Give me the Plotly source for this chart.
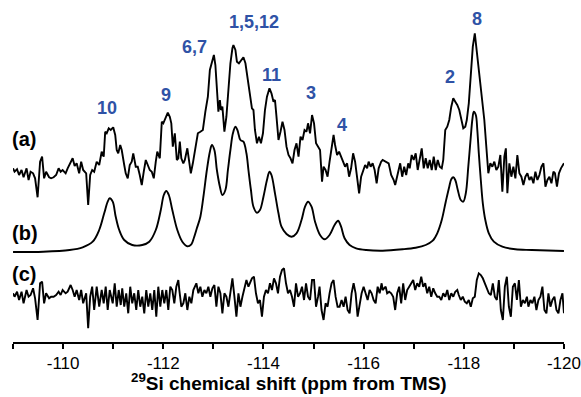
import plotly.graph_objects as go

# ---------------------------------------------------------------------------
# Spectra: chemical shift (ppm) and intensity (a.u., relative to each trace's
# own baseline).  (a) experimental, (b) simulated sum of components,
# (c) difference.
# ---------------------------------------------------------------------------
ppm_a = [
    -109.00, -109.03, -109.08, -109.12, -109.17, -109.21, -109.27, -109.31, -109.35, -109.40,
    -109.44, -109.49, -109.54, -109.58, -109.62, -109.66, -109.72, -109.76, -109.81, -109.86,
    -109.91, -109.95, -109.99, -110.05, -110.09, -110.15, -110.19, -110.23, -110.27, -110.32,
    -110.36, -110.40, -110.46, -110.50, -110.54, -110.58, -110.62, -110.67, -110.72, -110.77,
    -110.81, -110.84, -110.87, -110.91, -110.95, -111.00, -111.04, -111.07, -111.10, -111.14,
    -111.17, -111.22, -111.25, -111.29, -111.33, -111.37, -111.40, -111.45, -111.49, -111.53,
    -111.57, -111.61, -111.65, -111.69, -111.73, -111.77, -111.81, -111.85, -111.88, -111.93,
    -111.97, -112.00, -112.05, -112.09, -112.13, -112.16, -112.19, -112.23, -112.27, -112.30,
    -112.33, -112.36, -112.40, -112.43, -112.48, -112.51, -112.55, -112.59,
    -112.69, -112.74, -112.79, -112.84, -112.89, -112.93, -112.97, -113.01, -113.04, -113.07,
    -113.10, -113.13, -113.15, -113.18, -113.22, -113.26, -113.30, -113.34, -113.38, -113.40,
    -113.44, -113.47, -113.51, -113.55, -113.60, -113.64, -113.68, -113.72, -113.77, -113.80,
    -113.83, -113.87, -113.91, -113.95, -113.99, -114.03, -114.07, -114.12, -114.16, -114.20,
    -114.23, -114.26, -114.30, -114.34, -114.38, -114.42, -114.46, -114.50, -114.54, -114.58,
    -114.62, -114.66, -114.70, -114.74, -114.78, -114.82, -114.86, -114.89, -114.93, -114.97,
    -115.01, -115.05, -115.09, -115.13, -115.17, -115.20, -115.24, -115.28, -115.32, -115.36,
    -115.40, -115.43, -115.47, -115.51, -115.55, -115.59, -115.63, -115.67, -115.71, -115.75,
    -115.79, -115.83, -115.87, -115.91, -115.95, -115.99, -116.03, -116.07, -116.10, -116.14,
    -116.18, -116.22, -116.26, -116.30, -116.35,
    -116.38, -116.45, -116.50, -116.55, -116.60, -116.63, -116.68, -116.73, -116.77, -116.81,
    -116.85, -116.89, -116.92, -116.96, -117.00, -117.04, -117.08, -117.12, -117.16, -117.20,
    -117.24, -117.28, -117.32, -117.36, -117.40, -117.44, -117.48, -117.52, -117.56, -117.59,
    -117.63, -117.67, -117.71, -117.75, -117.79, -117.83, -117.87, -117.91, -117.95, -117.99,
    -118.03, -118.06, -118.10, -118.14, -118.18, -118.22, -118.25, -118.29, -118.33, -118.37,
    -118.41, -118.45, -118.49, -118.53, -118.57, -118.61, -118.65, -118.69, -118.73, -118.77,
    -118.81, -118.84, -118.87, -118.91, -118.95, -118.99, -119.03, -119.07, -119.11, -119.15,
    -119.19, -119.23, -119.27, -119.31, -119.35, -119.39, -119.43, -119.47, -119.51, -119.55,
    -119.59, -119.63, -119.67, -119.71, -119.75, -119.79, -119.82, -119.86, -119.90, -119.94,
    -120.00,
]
int_a = [
    3.7, 0.3, 2.7, -3, 2, -5.3, 3.7, -8, 0.3, -1.3,
    -6.3, -25.3, 10.3, 15.3, -6.3, 0.3, -5.3, -6.3, -5.3, -3,
    3.7, 0.3, 2, -1.3, 3.7, 10.3, 13.7, 6, 8.7, -1.3,
    10.3, 2, -1.3, -33, -3, 2, 0.3, 10.3, 7, 20.3,
    15.3, 40.3, 38.7, 43.7, 42, 44.7, 37, 22, 18.7, 27,
    22, 7, -1.3, -6.3, 7, 10.3, 18.7, 5.3, 5.3, -3,
    -13, 0.3, 12, 7, 2, 0.3, -6.3, 10.3, 20.3, 13.7,
    50.3, 48.7, 53.7, 59.3, 55.3, 48.7, 25.3, 38.7, 12, 13.7,
    30.3, 13.7, 8.7, 12, 23.7, 12, -1.3, 8.7,
    38.7, 40.3, 42, 60.3, 75.3, 102, 108.7, 117, 107, 85.3,
    60.3, 72, 62, 65.3, 40.3, 55.3, 85.3, 108.7, 123.7, 127,
    122, 110.3, 108.7, 112, 114.7, 108.7, 95.3, 78.7, 63.7, 62,
    42, 28.7, 35.3, 28.7, 38.7, 62, 75.3, 83.7, 78.7, 70.3,
    72, 55.3, 32, 40.3, 50.3, 42, 25.3, 17, 13.7, 8.7,
    22, 28.7, 15.3, 35.3, 32, 42, 40.3, 48.7, 38.7, 57,
    48.7, 28.7, 25.3, 22, -9.7, 5.3, 2, -4.7, 10.3, 22,
    37, 27, 17, 20.3, 15.3, 8.7, 5.3, 8.7, -4.7, 3.7,
    18.7, 10.3, -8, -21.3, -4.7, 2, 7, 3.7, 10.3, 5.3,
    8.7, 2, -11.3, 3.7, 10.3,
    12, 10.3, 8.7, -3, -8, -13, -1.3, 8.7, -4.7, 5.3,
    -3, 8.7, 3.7, 17, 12, 18.7, 2, 12, 23.7, 3.7,
    13.7, 3.7, 12, 2, 15.3, 2, 12, 5.3, 3.7, 12,
    42, 45.3, 52, 65.3, 73.7, 70.3, 67, 62, 52, 43.7,
    45.3, 52, 68.7, 98.7, 125.3, 138.7, 125.3, 105.3, 85.3, 68.7,
    52, 25.3, -1.3, 8.7, 5.3, 10.3, 2, 5.3, 17, -19.7,
    15.3, 23.7, -21.3, 8.7, -4.7, 5.3, -6.3, 17, -1.3, -4.7,
    -13, -4.7, -1.3, -8, -4.7, -11.3, 0.3, -8, -3, 5.3,
    8.7, -14.7, -8, -4.7, -11.3, 0.3, -1.3, -14.7, -1.3, 3.7,
    8.7,
]

ppm_b = [
    -109.00, -109.60, -110.13, -110.39, -110.59, -110.72, -110.82, -110.89, -110.93, -110.99,
    -111.05, -111.12, -111.22, -111.38, -111.58, -111.72, -111.85, -111.95, -112.01, -112.06,
    -112.11, -112.18, -112.28, -112.38, -112.48, -112.56,
    -112.61, -112.67, -112.74, -112.81, -112.87, -112.93, -112.97, -113.02, -113.07, -113.13,
    -113.18, -113.24, -113.29, -113.34, -113.39, -113.44, -113.48, -113.54, -113.60, -113.66,
    -113.70, -113.75, -113.80, -113.87, -113.93, -114.00, -114.07, -114.12, -114.16, -114.23,
    -114.30, -114.36, -114.46, -114.56, -114.66, -114.76, -114.83, -114.89, -114.96, -115.03,
    -115.13, -115.22, -115.32, -115.42, -115.49, -115.55, -115.62, -115.72, -115.85, -116.05,
    -116.38,
    -116.78, -117.04, -117.24, -117.38, -117.47, -117.56, -117.64, -117.71, -117.75, -117.79,
    -117.83, -117.88, -117.94, -117.99, -118.04, -118.09, -118.14, -118.17, -118.20, -118.24,
    -118.27, -118.30, -118.34, -118.38, -118.43, -118.50, -118.60, -118.77, -119.03, -119.36,
    -120.00,
]
int_b = [
    0, 0.3, 2, 4.7, 10.3, 22, 38.7, 50.3, 53.7, 50.3,
    35.3, 22, 12, 7, 7, 10.3, 22, 42, 57, 61,
    57, 42, 22, 10.3, 5.7, 7.7,
    14, 23.7, 35.3, 58.7, 82, 100.3, 107, 102, 82, 65.3,
    57, 62, 82, 102, 118.7, 125.3, 122, 112, 110.3, 98.7,
    82, 62, 45.3, 39.3, 42, 55.3, 72, 80.3, 77, 58.7,
    38.7, 25.3, 18, 15.3, 18.7, 32, 45.3, 50.3, 45.3, 30.3,
    17, 12.7, 17, 27, 31.3, 25.3, 13.7, 7, 3.7, 2,
    1.3,
    2.7, 4.3, 7, 11.3, 18.7, 32, 50.3, 65.3, 72.7, 74.7,
    72, 62, 52, 50.3, 58.7, 85.3, 115.3, 132, 140.3, 137,
    122, 98.7, 72, 48.7, 32, 18.7, 10.3, 5.3, 2.7, 2,
    1,
]

ppm_c = [
    -109.00, -109.03, -109.08, -109.12, -109.17, -109.21, -109.27, -109.31, -109.35, -109.40,
    -109.44, -109.49, -109.54, -109.58, -109.62, -109.66, -109.72, -109.76, -109.81, -109.86,
    -109.91, -109.95, -109.99, -110.05, -110.09, -110.15, -110.19, -110.23, -110.27, -110.32,
    -110.36, -110.40, -110.46, -110.50,
    -110.54, -110.58, -110.62, -110.67, -110.72, -110.77, -110.81, -110.85, -110.89, -110.93,
    -110.99, -111.03, -111.07, -111.11, -111.15, -111.18, -111.22, -111.26, -111.30, -111.34,
    -111.38, -111.42, -111.46, -111.50, -111.54, -111.58, -111.62, -111.66, -111.70, -111.74,
    -111.78, -111.82, -111.86, -111.90, -111.94, -111.98, -112.02, -112.06, -112.10, -112.14,
    -112.18, -112.22, -112.26, -112.30, -112.32, -112.36, -112.40, -112.44, -112.48, -112.52,
    -112.56, -112.60,
    -112.66, -112.70, -112.74, -112.78, -112.82, -112.86, -112.90, -112.94, -112.98, -113.02,
    -113.06, -113.10, -113.14, -113.18, -113.22, -113.26, -113.30, -113.34, -113.38, -113.42,
    -113.46, -113.50, -113.54, -113.58, -113.62, -113.66, -113.70, -113.73, -113.77, -113.81,
    -113.85, -113.89, -113.93, -113.97, -114.01, -114.05, -114.09, -114.13, -114.17, -114.21,
    -114.25, -114.29, -114.33, -114.37, -114.41, -114.45, -114.49, -114.53, -114.57, -114.61,
    -114.65, -114.69, -114.73, -114.77, -114.81, -114.85, -114.89, -114.93, -114.97, -115.01,
    -115.05, -115.09, -115.12, -115.16, -115.20, -115.24, -115.28, -115.32, -115.36, -115.40,
    -115.44, -115.48, -115.52, -115.56, -115.60, -115.64, -115.68, -115.72, -115.76, -115.80,
    -115.84, -115.88, -115.92, -115.96, -116.00, -116.04, -116.08, -116.12, -116.16, -116.20,
    -116.24, -116.28, -116.32, -116.36,
    -116.38, -116.44, -116.47, -116.51, -116.55, -116.59, -116.63, -116.67, -116.71, -116.75,
    -116.79, -116.83, -116.87, -116.91, -116.95, -116.99, -117.03, -117.07, -117.11, -117.15,
    -117.19, -117.23, -117.27, -117.31, -117.35, -117.39, -117.43, -117.47, -117.51, -117.55,
    -117.59, -117.63, -117.67, -117.71, -117.75, -117.79, -117.83, -117.87, -117.90, -117.94,
    -117.98, -118.02, -118.06, -118.10, -118.14, -118.18, -118.22, -118.26, -118.30, -118.34,
    -118.38, -118.42, -118.46, -118.50, -118.54, -118.58, -118.62, -118.66, -118.70, -118.74,
    -118.78, -118.82, -118.86, -118.90, -118.94, -118.98, -119.02, -119.06, -119.10, -119.14,
    -119.18, -119.22, -119.26, -119.29, -119.33, -119.37, -119.41, -119.45, -119.49, -119.53,
    -119.57, -119.61, -119.65, -119.69, -119.73, -119.77, -119.81, -119.85, -119.89, -119.93,
    -119.97, -120.00,
]
int_c = [
    3.7, 0.3, 5.3, -3, 5.3, -6.3, 7, 0.3, 2, 8.7,
    -1.3, -23, 13.7, 15.3, -6.3, 3.7, -1.3, 0.3, 0.3, 2,
    5.3, 2, 7, 3.7, 5.3, 12, 7, 0.3, 7, -3,
    7, -6.3, 3.7, -31.3,
    0.3, 10.3, -13, 10.3, -9.7, 7, -6.3, 10.3, -13, 7,
    -6.3, 13.7, -9.7, 7, -8, 8.7, -9.7, 3.7, -16.3, 10.3,
    -6.3, 3.7, -13, 7, -9.7, 0.3, -16.3, 7, -9.7, 3.7,
    -13, 7, -19.7, 10.3, -9.7, 7, -6.3, 7, -13, 10.3,
    7, -6.3, 10.3, 17, 7, -9.7, -6.3, 3.7, -13, 0.3,
    -6.3, 7,
    13.7, 3.7, 10.3, 0.3, 7, 3.7, 10.3, 0.3, 8.7, 12,
    -9.7, 10.3, 3.7, -16.3, 3.7, 0.3, -9.7, 7, 18.7, 0.3,
    -19.7, 3.7, -9.7, 0.3, 8.7, 17, 10.3, 13.7, 18.7, 20.3,
    3.7, -6.3, -3, -19.7, 0.3, 7, 3.7, 13.7, 7, 18.7,
    13.7, 3.7, 20.3, 27, 28.7, 13.7, 3.7, 7, 0.3, -9.7,
    13.7, 0.3, 3.7, 10.3, -3, 13.7, 0.3, -3, 17, 17,
    -9.7, 0.3, 10.3, -13, -23, -6.3, -9.7, 3.7, 13.7, 17,
    0.3, -9.7, -9.7, -3, -9.7, 0.3, -13, -16.3, 3.7, 13.7,
    3.7, -19.7, -6.3, 3.7, 10.3, 3.7, -3, 7, 3.7, -3,
    -6.3, 10.3, 3.7, 13.7,
    7, 10.3, 3.7, 5.3, 3.7, 0.3, -13, 3.7, 10.3, -6.3,
    13.7, -3, 7, 10.3, 13.7, 17, 7, 13.7, 10.3, 20.3,
    10.3, 13.7, 3.7, 10.3, 0.3, 8.7, 3.7, 0.3, 0.3, -3,
    3.7, 0.3, 7, -3, 3.7, 0.3, 5.3, 7, 2, -3,
    0.3, -4.7, -6.3, -3, -9.7, -1.3, 0.3, 17, 23.7, 22,
    18.7, 13.7, 7, 3.7, 2, 13.7, 0.3, -3, 17, -13,
    -23, 10.3, 20.3, -9.7, -19.7, 10.3, 13.7, -3, 17, -9.7,
    -3, -6.3, 0.3, -9.7, -3, -6.3, 0.3, -13, -3, 0.3,
    10.3, -13, -16.3, 3.7, -9.7, -3, 0.3, -13, -16.3, -3,
    3.7, -16.3,
]

trace_names = ["(a)", "(b)", "(c)"]
peak_labels = ["10", "9", "6,7", "1,5,12", "11", "3", "4", "2", "8"]
tick_ppm = [-110, -112, -114, -116, -118, -120]
tick_text = ["-110", "-112", "-114", "-116", "-118", "-120"]
minor_ppm = [-109, -111, -113, -115, -117, -119]

assert len(ppm_a) == len(int_a)
assert len(ppm_b) == len(int_b)
assert len(ppm_c) == len(int_c)

# ---------------------------------------------------------------------------
# Layout constants
# ---------------------------------------------------------------------------
FONT = "Arial, 'Liberation Sans', Helvetica, sans-serif"
BLUE = "#2F52A6"
Y_TOP = 342                      # vertical span of the plotting area (a.u.)
offsets = [170, 90, 45]          # vertical stacking of (a), (b), (c)
label_y = [203.5, 109, 68.5]     # heights of the (a)/(b)/(c) tags
peak_pos = [                     # (ppm, height) of each assignment label
    (-110.88, 234), (-112.05, 247), (-112.63, 295), (-113.81, 320),
    (-114.17, 267), (-114.94, 249), (-115.57, 217), (-117.72, 265.5),
    (-118.26, 323),
]

fig = go.Figure()
series = [(ppm_a, int_a, "linear"), (ppm_b, int_b, "spline"), (ppm_c, int_c, "linear")]
for (xs, ys, shape), off in zip(series, offsets):
    fig.add_trace(go.Scatter(
        x=xs, y=[v + off for v in ys], mode="lines",
        line=dict(color="black", width=1.9, shape=shape),
        hoverinfo="skip", showlegend=False,
    ))

annotations = []
for name, yy in zip(trace_names, label_y):
    annotations.append(dict(
        x=-0.006, xref="paper", y=yy / Y_TOP, yref="paper",
        xanchor="left", yanchor="middle",
        text=f"<b>{name}</b>", showarrow=False,
        font=dict(family=FONT, size=20, color="black"),
    ))
for txt, (px, py) in zip(peak_labels, peak_pos):
    annotations.append(dict(
        x=px, y=py / Y_TOP, xref="x", yref="paper",
        xanchor="center", yanchor="middle",
        text=f"<b>{txt}</b>", showarrow=False,
        font=dict(family=FONT, size=18, color=BLUE),
    ))
annotations.append(dict(
    x=0.5, xref="paper", y=-40 / Y_TOP, yref="paper",
    xanchor="center", yanchor="middle",
    text="<b><sup>29</sup>Si chemical shift (ppm from TMS)</b>", showarrow=False,
    font=dict(family=FONT, size=19, color="black"),
))

fig.update_layout(
    width=581, height=397,
    margin=dict(l=13, r=14, t=0, b=55, pad=0),
    paper_bgcolor="white", plot_bgcolor="white",
    font=dict(family=FONT, color="black"),
    showlegend=False,
    annotations=annotations,
    xaxis=dict(
        range=[-108.999, -120.001], showgrid=False, zeroline=False,
        showline=True, linecolor="black", linewidth=1.8,
        tickmode="array", tickvals=tick_ppm, ticktext=tick_text,
        ticks="outside", ticklen=5, tickwidth=1.8, tickcolor="black",
        ticklabeloverflow="allow",
        tickfont=dict(family=FONT, size=17, color="black"),
        minor=dict(tickmode="array", tickvals=minor_ppm, ticks="outside",
                   ticklen=5, tickwidth=1.8, tickcolor="black", showgrid=False),
    ),
    yaxis=dict(range=[0, Y_TOP], visible=False, fixedrange=True),
)

fig.write_html("out.html")
